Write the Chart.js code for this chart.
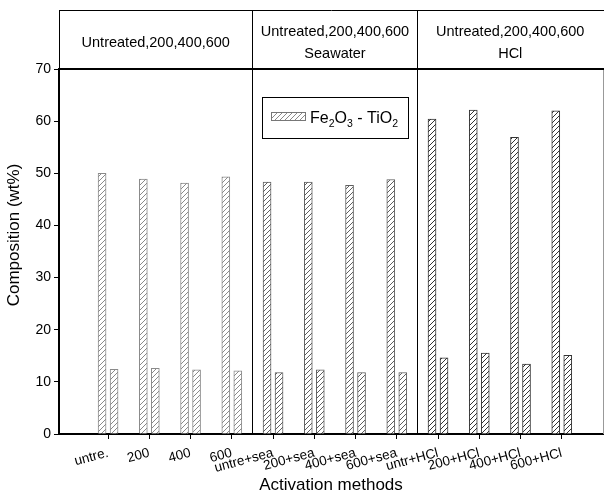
<!DOCTYPE html>
<html>
<head>
<meta charset="utf-8">
<script src="https://cdn.jsdelivr.net/npm/chart.js@4/dist/chart.umd.min.js"></script>
<style>
  html, body { margin: 0; padding: 0; background: #fff; }
  #c { display: block; }
</style>
</head>
<body>
<canvas id="c" width="604" height="496"></canvas>
<script>
// Activation methods along the x axis
const categories = ['untre.', '200', '400', '600',
  'untre+sea', '200+sea', '400+sea', '600+sea',
  'untr+HCl', '200+HCl', '400+HCl', '600+HCl'];

// Composition (wt%) of each sample
const fe2o3 = [50.0, 48.9, 48.1, 49.3, 48.3, 48.3, 47.7, 48.8, 60.4, 62.1, 56.9, 62.0];
const tio2  = [12.4, 12.6, 12.3, 12.1, 11.8, 12.3, 11.8, 11.8, 14.6, 15.5, 13.4, 15.1];

const yTicks = [0, 10, 20, 30, 40, 50, 60, 70];

// Header band above the plot, one entry per treatment group (4 samples each)
const groupHeaders = [
  ['Untreated,200,400,600'],
  ['Untreated,200,400,600', 'Seawater'],
  ['Untreated,200,400,600', 'HCl']
];
const groupSize = 4;

const FONT = '"Liberation Sans", Arial, sans-serif';

function hatch(color) {
  const s = 5;
  const t = document.createElement('canvas');
  t.width = s; t.height = s;
  const g = t.getContext('2d');
  g.fillStyle = '#fff';
  g.fillRect(0, 0, s, s);
  g.strokeStyle = color;
  g.lineWidth = 1;
  g.beginPath();
  g.moveTo(0, s); g.lineTo(s, 0);
  g.moveTo(-1, 1); g.lineTo(1, -1);
  g.moveTo(s - 1, s + 1); g.lineTo(s + 1, s - 1);
  g.stroke();
  return g.createPattern(t, 'repeat');
}

const ctx0 = document.getElementById('c').getContext('2d');
const groupTones = ['#8a8a8a', '#5e5e5e', '#333333'];
const groupPatterns = groupTones.map(hatch);
const barFill = categories.map((_, i) => groupPatterns[Math.floor(i / groupSize)]);
const barEdge = categories.map((_, i) => groupTones[Math.floor(i / groupSize)]);

const toPoints = arr => arr.map((v, i) => ({ x: i, y: v }));

const frame = {
  id: 'frame',
  afterDatasetsDraw(chart) {
    const { ctx, chartArea: a, scales: { x } } = chart;
    const headTop = 10;
    ctx.save();
    ctx.strokeStyle = '#000';
    // header box
    ctx.lineWidth = 1;
    ctx.beginPath();
    ctx.moveTo(a.left, headTop + 0.5); ctx.lineTo(a.right + 1, headTop + 0.5);
    ctx.moveTo(a.left + 0.5, headTop); ctx.lineTo(a.left + 0.5, a.top);
    ctx.stroke();
    // group separators
    const bounds = [a.left];
    for (let g = 1; g < groupHeaders.length; g++) {
      const px = Math.round(x.getPixelForValue(g * groupSize - 0.5)) + 0.5;
      bounds.push(px);
      ctx.beginPath();
      ctx.moveTo(px, headTop); ctx.lineTo(px, a.bottom);
      ctx.stroke();
    }
    bounds.push(a.right);
    // right edge, faint
    ctx.strokeStyle = '#999';
    ctx.beginPath();
    ctx.moveTo(a.right + 0.5, a.top); ctx.lineTo(a.right + 0.5, a.bottom);
    ctx.stroke();
    // thick line at 70
    ctx.strokeStyle = '#000';
    ctx.lineWidth = 2;
    ctx.beginPath();
    ctx.moveTo(a.left, a.top); ctx.lineTo(a.right + 1, a.top);
    ctx.stroke();
    // header texts
    ctx.fillStyle = '#000';
    ctx.font = '14.5px ' + FONT;
    ctx.textAlign = 'center';
    ctx.textBaseline = 'middle';
    groupHeaders.forEach((lines, g) => {
      const cx = (bounds[g] + bounds[g + 1]) / 2;
      const mid = 43;
      const lh = 21.5;
      lines.forEach((ln, k) => {
        const y = mid + (k - (lines.length - 1) / 2) * lh;
        ctx.fillText(ln, cx, y);
      });
    });
    // y axis title
    ctx.save();
    ctx.translate(14, 235);
    ctx.rotate(-Math.PI / 2);
    ctx.font = '17px ' + FONT;
    ctx.textAlign = 'center';
    ctx.textBaseline = 'middle';
    ctx.fillText('Composition (wt%)', 0, 0);
    ctx.restore();
    // legend box
    const lx = 262, ly = 97, lw = 146, lhgt = 41;
    ctx.fillStyle = '#fff';
    ctx.fillRect(lx, ly, lw, lhgt);
    ctx.lineWidth = 1;
    ctx.strokeStyle = '#000';
    ctx.strokeRect(lx + 0.5, ly + 0.5, lw, lhgt);
    ctx.fillStyle = groupPatterns[0];
    ctx.fillRect(271, 112, 35, 9);
    ctx.strokeStyle = '#777';
    ctx.strokeRect(271.5, 112.5, 34, 8);
    // legend label with subscripts
    ctx.fillStyle = '#000';
    ctx.textAlign = 'left';
    ctx.textBaseline = 'alphabetic';
    const base = 123;
    let cx = 310;
    const parts = [['Fe', 0], ['2', 1], ['O', 0], ['3', 1], [' - TiO', 0], ['2', 1]];
    parts.forEach(([t, sub]) => {
      ctx.font = (sub ? '10.5px ' : '16px ') + FONT;
      ctx.fillText(t, cx, base + (sub ? 4 : 0));
      cx += ctx.measureText(t).width;
    });
    ctx.restore();
  }
};

new Chart(ctx0, {
  type: 'bar',
  data: {
    datasets: [
      {
        label: 'Fe2O3',
        data: toPoints(fe2o3),
        backgroundColor: barFill,
        borderColor: barEdge,
        borderWidth: 1,
        barThickness: 12,
        maxBarThickness: 8
      },
      {
        label: 'TiO2',
        data: toPoints(tio2),
        backgroundColor: barFill,
        borderColor: barEdge,
        borderWidth: 1,
        barThickness: 12,
        maxBarThickness: 8
      }
    ]
  },
  options: {
    responsive: false,
    animation: false,
    layout: { padding: { top: 69, right: 1, left: 0, bottom: 0 } },
    plugins: { legend: { display: false }, tooltip: { enabled: false } },
    scales: {
      x: {
        type: 'linear',
        offset: false,
        bounds: 'data',
        min: -1.19,
        max: 12,
        afterBuildTicks: s => { s.ticks = categories.map((_, i) => ({ value: i })); },
        afterFit: s => { s.height = 62; },
        grid: { drawOnChartArea: false, drawTicks: true, tickLength: 5, color: '#000', offset: false },
        border: { display: true, color: '#000', width: 2 },
        ticks: {
          autoSkip: false,
          minRotation: 15,
          maxRotation: 15,
          padding: 6,
          color: '#000',
          font: { family: FONT, size: 13.5 },
          callback: v => categories[v]
        },
        title: {
          display: true,
          text: 'Activation methods',
          color: '#000',
          font: { family: FONT, size: 17 },
          padding: { top: 0, bottom: 0 }
        }
      },
      y: {
        min: 0,
        max: 70,
        afterBuildTicks: s => { s.ticks = yTicks.map(v => ({ value: v })); },
        afterFit: s => { s.width = 59; },
        grid: { drawOnChartArea: false, drawTicks: true, tickLength: 5, color: '#000' },
        border: { display: true, color: '#000', width: 2 },
        ticks: {
          padding: 3,
          color: '#000',
          font: { family: FONT, size: 14 }
        },
        title: { display: false }
      }
    }
  },
  plugins: [frame]
});
</script>
</body>
</html>
